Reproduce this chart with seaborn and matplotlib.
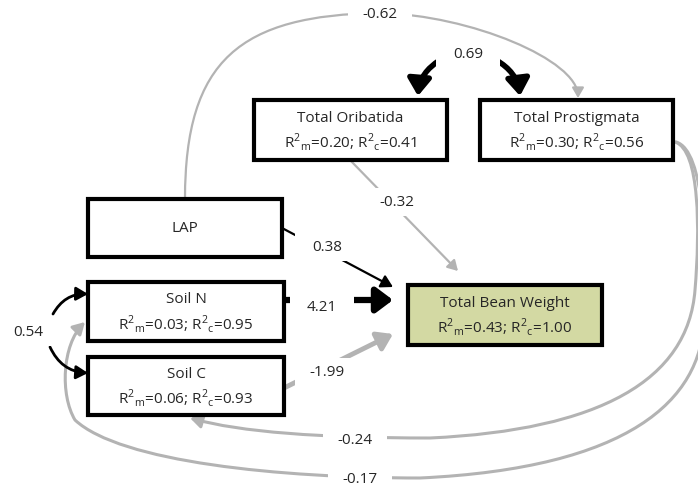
import matplotlib
matplotlib.use("Agg")
import matplotlib.pyplot as plt
from matplotlib.patches import Rectangle, FancyArrowPatch
from matplotlib.path import Path
import seaborn as sns

sns.set_style("white")
plt.rcParams['font.family'] = ['Open Sans', 'DejaVu Sans']
plt.rcParams['mathtext.fontset'] = 'custom'
plt.rcParams['mathtext.rm'] = 'Open Sans'

### node data
nodes = ["Total Oribatida", "Total Prostigmata", "LAP", "Soil N", "Soil C", "Total Bean Weight"]
r2_marginal = [0.20, 0.30, None, 0.03, 0.06, 0.43]
r2_conditional = [0.41, 0.56, None, 0.95, 0.93, 1.00]

### path data (from, to, coefficient)
path_from = ["LAP", "Total Oribatida", "Total Oribatida", "LAP", "Soil N", "Soil C",
             "Total Prostigmata", "Total Prostigmata", "Soil N"]
path_to = ["Total Prostigmata", "Total Prostigmata", "Total Bean Weight", "Total Bean Weight",
           "Total Bean Weight", "Total Bean Weight", "Soil C", "Soil N", "Soil C"]
path_coef = [-0.62, 0.69, -0.32, 0.38, 4.21, -1.99, -0.24, -0.17, 0.54]

### layout (pixel coordinates, y down)
box_xy = {"Total Oribatida": (254, 100, 193, 60),
          "Total Prostigmata": (480, 100, 193, 60),
          "LAP": (88, 199, 194, 58),
          "Soil N": (88, 282, 196, 59),
          "Soil C": (88, 357, 196, 58),
          "Total Bean Weight": (408, 285, 194, 60)}

label_xy = [(380, 14), (468, 54), (397, 202), (327, 247), (322, 307),
            (327, 372), (355, 440), (360, 479), (28, 332)]

gray = '#b3b3b3'
M, C = Path.MOVETO, Path.CURVE4

fig = plt.figure(figsize=(6.98, 4.94), dpi=100)
ax = fig.add_axes([0, 0, 1, 1])
ax.set_xlim(0, 698)
ax.set_ylim(494, 0)
ax.axis('off')


def head(l, w):
    return f"-|>,head_length={l},head_width={w}"


def curve(verts, color, lw, hl, hw):
    codes = [M] + [C] * (len(verts) - 1)
    p = FancyArrowPatch(path=Path(verts, codes), arrowstyle=head(hl, hw),
                        mutation_scale=10, color=color, lw=lw, zorder=1)
    ax.add_patch(p)


def straight(a, b, color, lw, hl, hw, rad=0.0):
    p = FancyArrowPatch(a, b, arrowstyle=head(hl, hw), connectionstyle=f"arc3,rad={rad}",
                        mutation_scale=10, color=color, lw=lw, shrinkA=0, shrinkB=0, zorder=1)
    ax.add_patch(p)


col = ['black' if c > 0 else gray for c in path_coef]

# -0.62 LAP -> Prostigmata (big arc over the top)
curve([(185, 199), (185, 60), (240, 15), (380, 13), (470, 15), (578, 60), (578, 98)],
      col[0], 1.6, 0.6, 0.35)
# 0.69 correlation Oribatida <-> Prostigmata
straight((440, 60), (418, 96), col[1], 4.0, 1.0, 0.7, rad=0.25)
straight((496, 60), (520, 96), col[1], 4.0, 1.0, 0.7, rad=-0.25)
# -0.32 Oribatida -> Bean
straight((350, 160), (458, 271), col[2], 1.6, 0.6, 0.35)
# 0.38 LAP -> Bean
straight((282, 228), (393, 287), col[3], 1.6, 0.7, 0.4)
# 4.21 Soil N -> Bean
straight((284, 300), (393, 300), col[4], 4.5, 1.0, 0.75)
# -1.99 Soil C -> Bean
straight((284, 388), (393, 334), col[5], 3.5, 0.9, 0.6)
# -0.24 Prostigmata -> Soil C
curve([(675, 142), (700, 150), (700, 230), (695, 290), (688, 380), (600, 430), (430, 438),
       (320, 438), (240, 432), (190, 418)], col[6], 2.2, 0.7, 0.4)
# -0.17 Prostigmata -> Soil N
curve([(676, 142), (705, 150), (707, 250), (704, 320), (701, 400), (630, 468), (420, 478),
       (280, 478), (120, 462), (75, 420), (60, 395), (62, 345), (85, 322)],
      col[7], 2.2, 0.7, 0.4)
# 0.54 correlation Soil N <-> Soil C
straight((53, 314), (88, 294), col[8], 2.0, 0.7, 0.4, rad=-0.3)
straight((50, 347), (88, 373), col[8], 2.0, 0.7, 0.4, rad=0.3)

### boxes
for i, name in enumerate(nodes):
    x, y, w, h = box_xy[name]
    fc = '#d3d9a3' if name == "Total Bean Weight" else 'white'
    ax.add_patch(Rectangle((x, y), w, h, facecolor=fc, edgecolor='black', lw=3, zorder=2))
    cx, cy = x + w / 2, y + h / 2
    if r2_marginal[i] is None:
        ax.text(cx, cy, name, ha='center', va='center', fontsize=11, zorder=3)
    else:
        ax.text(cx, cy - 12, name, ha='center', va='center', fontsize=11, zorder=3)
        r2 = (f"R$^\\mathregular{{2}}$$_\\mathregular{{m}}$={r2_marginal[i]:.2f}; "
              f"R$^\\mathregular{{2}}$$_\\mathregular{{c}}$={r2_conditional[i]:.2f}")
        ax.text(cx, cy + 12, r2, ha='center', va='center', fontsize=11, zorder=3)

### coefficient labels on white patches that break the lines
for (lx, ly), c in zip(label_xy, path_coef):
    ax.add_patch(Rectangle((lx - 32, ly - 14), 64, 28, facecolor='white',
                           edgecolor='none', zorder=1.5))
    ax.text(lx, ly, f"{c:.2f}", ha='center', va='center', fontsize=11, zorder=3)

fig.savefig("out.png", dpi=100)
